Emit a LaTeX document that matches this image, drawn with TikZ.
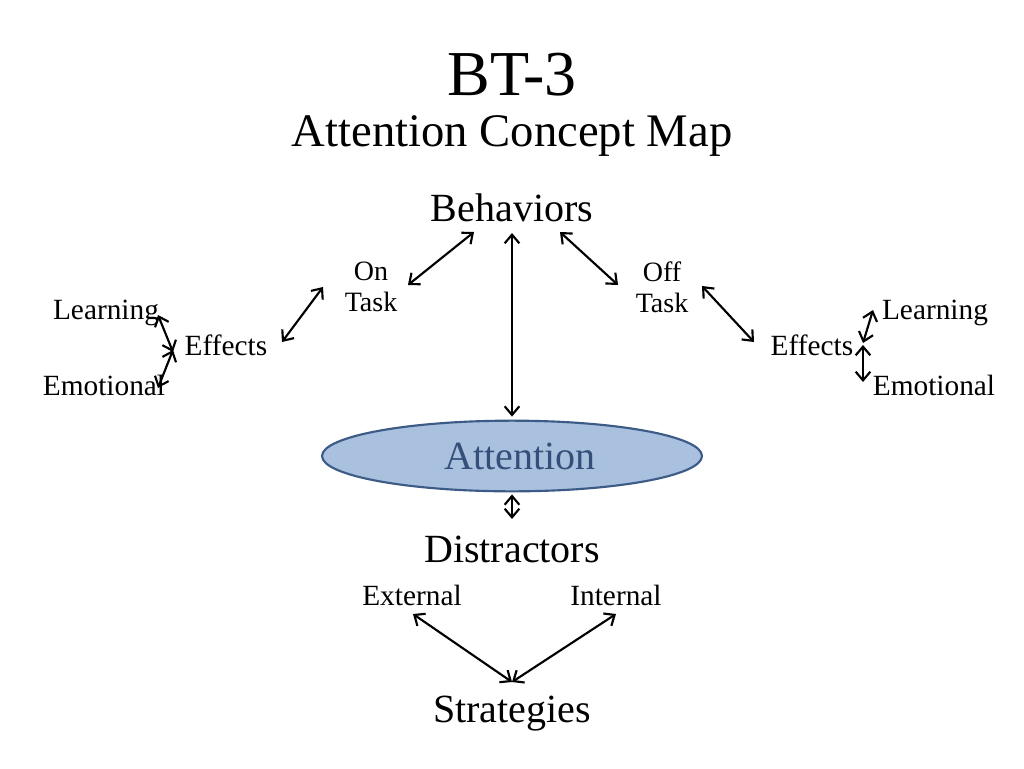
\documentclass[tikz,border=0pt]{standalone}
\usepackage{fontspec}
\setmainfont{Liberation Serif}
\usetikzlibrary{shapes.geometric,arrows.meta}

\definecolor{attnfill}{HTML}{A9C0DF}
\definecolor{attnline}{HTML}{3C5B86}
\definecolor{attntext}{HTML}{34507A}

\tikzset{
  lbl/.style={font=\fontsize{22}{23}\selectfont, inner sep=1pt, anchor=base},
  topic/.style={font=\fontsize{30}{32}\selectfont, inner sep=1pt, anchor=base},
  link/.style={<->, line width=1.6pt, >={Straight Barb[length=6.5pt,width=11pt]}},
}

\begin{document}
\begin{tikzpicture}[x=0.75pt,y=0.75pt,yscale=-1,xscale=1]
\useasboundingbox (0,0) rectangle (1024,768);

% Title
\node [anchor=base, font=\fontsize{48}{50}\selectfont] (title) at (512,95) {BT-3};
\node [anchor=base, font=\fontsize{35}{38}\selectfont] (subtitle) at (512,146) {Attention Concept Map};

% Text Node
\node [topic] (beh) at (512,221) {Behaviors};
\node [lbl, anchor=center, align=center, font=\fontsize{21}{23}\selectfont] (on) at (371,287) {On\\Task};
\node [lbl, anchor=center, align=center, font=\fontsize{21}{23}\selectfont] (off) at (662,287) {Off\\Task};
\node [lbl] (effL) at (226,355) {Effects};
\node [lbl] (effR) at (812,355) {Effects};
\node [lbl] (learnL) at (106,319) {Learning};
\node [lbl] (learnR) at (935,319) {Learning};
\node [lbl] (emoL) at (104,395) {Emotional};
\node [lbl] (emoR) at (934,395) {Emotional};

% Shape: Ellipse
\node [ellipse, draw=attnline, fill=attnfill, line width=1.6pt, minimum width=285pt, minimum height=53pt,
       inner sep=0pt, text=attntext, font=\fontsize{30}{32}\selectfont] (attn) at (512,456) {\hspace*{12pt}Attention};

\node [topic] (dist) at (512,562) {Distractors};
\node [lbl] (ext) at (412,605) {External};
\node [lbl] (int) at (616,605) {Internal};
\node [topic] (strat) at (512,722) {Strategies};

% Straight Lines
\draw [link] ([shift={(0,12)}]beh.base) -- ([shift={(0,-3)}]attn.north);
\draw [link] ([shift={(-38,11)}]beh.base) -- ([shift={(37,-2)}]on.center);
\draw [link] ([shift={(48,11)}]beh.base) -- ([shift={(-44,-2)}]off.center);
\draw [link] ([shift={(-48,0)}]on.center) -- ([shift={(56,-13)}]effL.base);
\draw [link] ([shift={(40,-1)}]off.center) -- ([shift={(-58,-13)}]effR.base);

\draw [link] ([shift={(52,-4)}]learnL.base) -- ([shift={(-53,-3)}]effL.base);
\draw [link] ([shift={(54,-7)}]emoL.base) -- ([shift={(-53,-5)}]effL.base);
\draw [link] ([shift={(-62,-9)}]learnR.base) -- ([shift={(51,-12)}]effR.base);
\draw [link] ([shift={(-71,-13)}]emoR.base) -- ([shift={(51,-10)}]effR.base);

\draw [link] ([shift={(0,2)}]attn.south) -- ([shift={(0,-43)}]dist.base);
\draw [link] ([shift={(1,9)}]ext.base) -- ([shift={(0,-40)}]strat.base);
\draw [link] ([shift={(0,9)}]int.base) -- ([shift={(0,-40)}]strat.base);

\end{tikzpicture}
\end{document}
